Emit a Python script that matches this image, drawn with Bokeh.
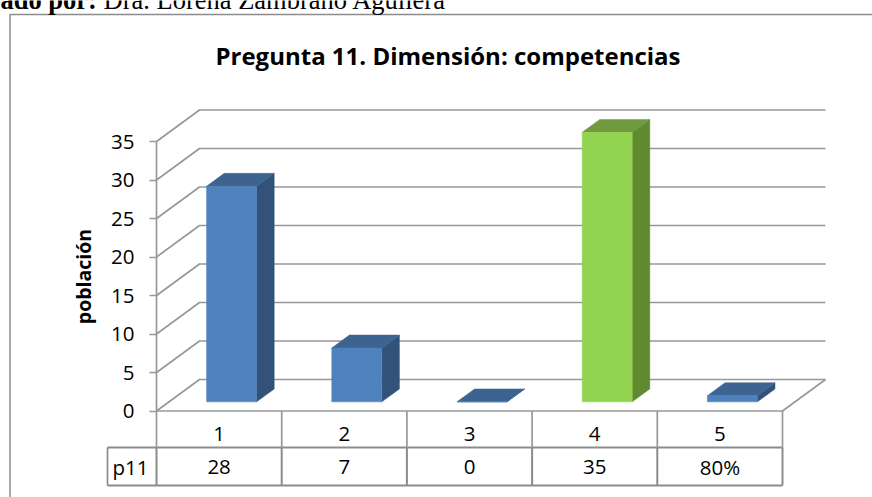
from bokeh.plotting import figure
from bokeh.embed import file_html
from bokeh.resources import INLINE
from bokeh.models import Range1d, LinearAxis, FixedTicker
from bokeh.core.properties import value

categories = [1, 2, 3, 4, 5]
values = [28, 7, 0, 35, 0.8]
table_labels = ["28", "7", "0", "35", "80%"]
y_ticks = [0, 5, 10, 15, 20, 25, 30, 35]
series_name = "p11"
title_text = "Pregunta 11. Dimensión: competencias"
y_label = "población"
caption_bold = "ado por:"
caption_text = "Dra. Lorena Zambrano Aguilera"

W, H = 872, 497
PX_X = 125.2   # pixels per category
PX_Y = 7.7     # pixels per value unit
X0, Y0 = 156.0, 410.5  # pixel of the front corner (x=0.5, y=0)

def xd(px):
    return 0.5 + (px - X0) / PX_X

def yd(py):
    return (Y0 - py) / PX_Y

DX = 43.0 / PX_X
DY = 31.5 / PX_Y

def proj(x, y, t):
    return x + t * DX, y + t * DY

p = figure(width=W, height=H, output_backend="svg", toolbar_location=None,
           x_range=Range1d(xd(0), xd(W)), y_range=Range1d(yd(H), yd(0)),
           min_border=0, outline_line_color=None, x_axis_location=None,
           y_axis_location=None, margin=0)
p.grid.visible = False

GRID = "#989898"
LW = 1.7

# outer chart border (left and top edges only are visible)
p.line([xd(9.5), xd(9.5), xd(W + 5)], [yd(H + 5), yd(14), yd(14)], line_color="#8c8c8c", line_width=1.5)

# walls
x_left, x_right = 0.5, 5.5
for v in y_ticks:
    bx, by = proj(x_left, v, 1)
    ex, _ = proj(x_right, v, 1)
    p.line([x_left, bx, ex], [v, by, by], line_color=GRID, line_width=LW)
fx, fy = proj(x_right, 0, 1)
p.line([x_right, fx], [0, fy], line_color=GRID, line_width=LW)
p.line([x_left, x_right], [0, 0], line_color=GRID, line_width=LW)

# table
row1, row2 = yd(447), yd(485)
x_tab = xd(107)
p.line([x_tab, x_right], [row1, row1], line_color="#8c8c8c", line_width=2)
p.line([x_tab, x_right], [row2, row2], line_color="#8c8c8c", line_width=2)
p.line([x_tab, x_tab], [row1, row2], line_color="#8c8c8c", line_width=LW)
for c in categories:
    p.line([c - 0.5, c - 0.5], [0, row1], line_color=GRID, line_width=LW)
    p.line([c - 0.5, c - 0.5], [row1, row2], line_color="#8c8c8c", line_width=2)
p.line([x_right, x_right], [0, row1], line_color=GRID, line_width=LW)
p.line([x_right, x_right], [row1, row2], line_color="#8c8c8c", line_width=2)

# bars
T0, T1 = 0.29, 0.70
HW = 25.0 / PX_X
front_xs, front_ys, side_xs, side_ys, top_xs, top_ys = [], [], [], [], [], []
fc, sc, tc = [], [], []
for c, v in zip(categories, values):
    green = v == max(values)
    a = c - HW
    b = c + HW
    x0, y0 = proj(a, 0, T0)
    x1, y1 = proj(b, v, T0)
    x2, y2 = proj(b, 0, T1)
    x3, y3 = proj(a, v, T1)
    front_xs.append([x0, x1, x1, x0]); front_ys.append([y0, y0, y1, y1])
    side_xs.append([x1, x2, x2, x1]); side_ys.append([y0, y2, y2 + v, y1])
    top_xs.append([x0, x1, x2, x3]); top_ys.append([y1, y1, y3, y3])
    fc.append("#92D350" if green else "#4F81BD")
    sc.append("#5F8A30" if green else "#325279")
    tc.append("#6F9B3E" if green else "#3D6491")
p.patches(side_xs, side_ys, fill_color=sc, line_color=sc, line_width=0.5)
p.patches(top_xs, top_ys, fill_color=tc, line_color=tc, line_width=0.5)
p.patches(front_xs, front_ys, fill_color=fc, line_color=fc, line_width=0.5)

FONT = "Open Sans"
# y axis
yax = LinearAxis(fixed_location=x_left, bounds=(0, 35), ticker=FixedTicker(ticks=y_ticks),
                 axis_line_color=GRID, axis_line_width=LW, major_tick_line_color=GRID,
                 major_tick_line_width=LW, major_tick_in=0, major_tick_out=7, minor_tick_line_color=None,
                 major_label_text_font=FONT, major_label_text_font_size="20.5px",
                 major_label_text_color="#000000", major_label_standoff=15,
                 axis_label=y_label, axis_label_text_font=FONT, axis_label_text_font_style="bold",
                 axis_label_text_font_size="19.5px", axis_label_text_color="#000000",
                 axis_label_standoff=11)
p.add_layout(yax, "left")

# table text
row1_mid, row2_mid = yd(433.5), yd(466.5)
p.text(categories, [row1_mid] * 5, text=[str(c) for c in categories], text_align="center",
       text_baseline="middle", text_font=value(FONT), text_font_size="20.5px", text_color="#000000")
p.text(categories, [row2_mid] * 5, text=table_labels, text_align="center",
       text_baseline="middle", text_font=value(FONT), text_font_size="20.5px", text_color="#000000")
p.text([xd(130)], [row2_mid], text=[series_name], text_align="center", text_baseline="middle",
       text_font=value(FONT), text_font_size="20.5px", text_color="#000000")

# title and clipped caption
p.text([xd(447.5)], [yd(55)], text=[title_text], text_align="center", text_baseline="middle",
       text_font=value(FONT), text_font_style="bold", text_font_size="24px", text_color="#000000")
p.text([xd(0)], [yd(-0.5)], text=[caption_bold], text_align="left", text_baseline="alphabetic",
       text_font=value("Liberation Serif"), text_font_style="bold", text_font_size="26.5px", text_color="#000000")
p.text([xd(103)], [yd(-0.5)], text=[caption_text], text_align="left", text_baseline="alphabetic",
       text_font=value("Liberation Serif"), text_font_size="26.5px", text_color="#000000")

open("out.html", "w").write(file_html(p, INLINE))
